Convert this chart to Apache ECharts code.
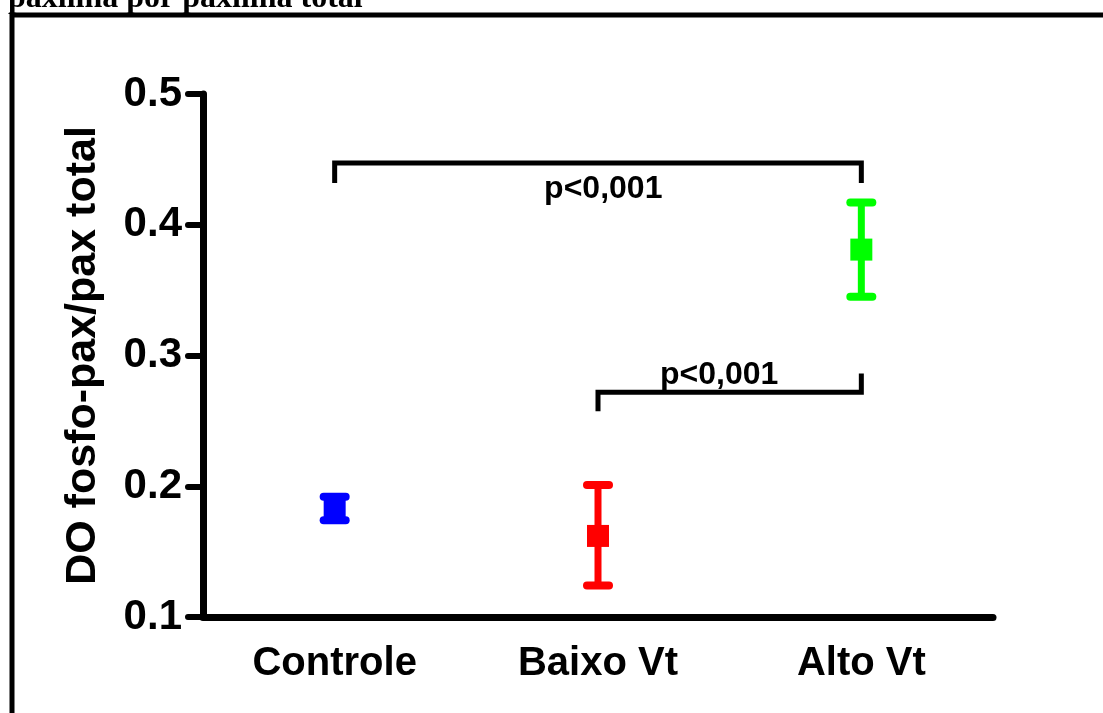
<!DOCTYPE html>
<html>
<head>
<meta charset="utf-8">
<style>
  html, body { margin: 0; padding: 0; background: #fff; }
  #chart { width: 1103px; height: 713px; }
</style>
<script src="https://cdn.jsdelivr.net/npm/echarts@6/dist/echarts.min.js"></script>
</head>
<body>
<div id="chart"></div>
<script>
// Groups and their summary statistics (mean with lower / upper error limits)
const categories = ['Controle', 'Baixo Vt', 'Alto Vt'];
const means = [0.183, 0.162, 0.381];
const lowerLimits = [0.174, 0.124, 0.345];
const upperLimits = [0.192, 0.201, 0.417];
const groupColors = ['#0000ff', '#ff0000', '#00ff00'];

// Y axis scale
const yMin = 0.1;
const yMax = 0.5;
const yStep = 0.1;

// Significance brackets: from group, to group, bar level, end of left leg,
// end of right leg, text level and text centre (in group units)
const bracketFrom = [0, 1];
const bracketTo = [2, 2];
const bracketLevel = [0.4473, 0.2718];
const bracketLeftEnd = [0.432, 0.2573];
const bracketRightEnd = [0.432, 0.2863];
const bracketTextLevel = [0.4275, 0.2847];
const bracketTextPos = [1.02, 1.46];
const bracketText = ['p<0,001', 'p<0,001'];

const headerText = 'paxilina por paxilina total';
const yAxisTitle = 'DO fosfo-pax/pax total';

const SANS = '"Liberation Sans", Arial, Helvetica, sans-serif';

const chart = echarts.init(document.getElementById('chart'), null, { renderer: 'canvas' });

const errorData = categories.map((c, i) => [i, means[i], lowerLimits[i], upperLimits[i]]);
const meanData = categories.map((c, i) => ({
  value: [i, means[i]],
  itemStyle: { color: groupColors[i], opacity: 1 }
}));
const bracketData = bracketFrom.map((f, i) => [
  f, bracketTo[i], bracketLevel[i], bracketLeftEnd[i], bracketRightEnd[i],
  bracketTextLevel[i], bracketTextPos[i], i
]);

chart.setOption({
  animation: false,
  backgroundColor: '#ffffff',
  grid: { left: 203, right: 110, top: 94, bottom: 96, containLabel: false },
  graphic: [
    {
      type: 'polyline',
      shape: { points: [[12, 713], [12, 15], [1103, 15]] },
      style: { stroke: '#000', lineWidth: 5, fill: null }
    },
    {
      type: 'text',
      x: 8, y: 15,
      style: {
        text: headerText,
        font: 'bold 32px "Liberation Serif", "Times New Roman", serif',
        fill: '#000',
        verticalAlign: 'bottom'
      }
    }
  ],
  xAxis: {
    type: 'category',
    data: categories,
    boundaryGap: true,
    axisLine: { lineStyle: { color: '#000', width: 7, cap: 'round' } },
    axisTick: { alignWithLabel: true, length: 15, lineStyle: { color: '#000', width: 6, cap: 'round' } },
    axisLabel: {
      color: '#000',
      fontFamily: SANS,
      fontWeight: 'bold',
      fontSize: 40,
      margin: 27
    },
    splitLine: { show: false }
  },
  yAxis: {
    type: 'value',
    min: yMin,
    max: yMax,
    interval: yStep,
    name: yAxisTitle,
    nameLocation: 'middle',
    nameRotate: 90,
    nameGap: 98,
    nameTextStyle: { color: '#000', fontFamily: SANS, fontWeight: 'bold', fontSize: 43 },
    axisLine: { show: true, lineStyle: { color: '#000', width: 7, cap: 'round' } },
    axisTick: { show: true, length: 15, lineStyle: { color: '#000', width: 6, cap: 'round' } },
    axisLabel: {
      color: '#000',
      fontFamily: SANS,
      fontWeight: 'bold',
      fontSize: 42,
      margin: 21,
      formatter: v => v.toFixed(1)
    },
    splitLine: { show: false }
  },
  series: [
    {
      // error bars: stem plus two caps
      type: 'custom',
      data: errorData,
      z: 3,
      renderItem: (params, api) => {
        const i = api.value(0);
        const lo = api.coord([i, api.value(2)]);
        const hi = api.coord([i, api.value(3)]);
        const capHalf = 11;
        const color = groupColors[i];
        const common = { stroke: color, lineWidth: 7, lineCap: 'round' };
        return {
          type: 'group',
          children: [
            { type: 'line', shape: { x1: lo[0], y1: lo[1], x2: hi[0], y2: hi[1] }, style: Object.assign({}, common, { lineCap: 'butt' }) },
            { type: 'line', shape: { x1: hi[0] - capHalf, y1: hi[1], x2: hi[0] + capHalf, y2: hi[1] }, style: Object.assign({}, common, { lineWidth: 8 }) },
            { type: 'line', shape: { x1: lo[0] - capHalf, y1: lo[1], x2: lo[0] + capHalf, y2: lo[1] }, style: Object.assign({}, common, { lineWidth: 8 }) }
          ]
        };
      }
    },
    {
      // group means
      type: 'scatter',
      data: meanData,
      symbol: 'rect',
      symbolSize: 22,
      itemStyle: { opacity: 1 },
      z: 4
    },
    {
      // significance brackets with their p-value text
      type: 'custom',
      data: bracketData,
      z: 5,
      renderItem: (params, api) => {
        const a = api.value(0), b = api.value(1);
        const pL = api.coord([a, api.value(2)]);
        const pR = api.coord([b, api.value(2)]);
        const legL = api.coord([a, api.value(3)]);
        const legR = api.coord([b, api.value(4)]);
        const tY = api.coord([a, api.value(5)])[1];
        const xUnit = api.size([1, 0])[0];
        const tX = pL[0] + (api.value(6) - a) * xUnit;
        const idx = api.value(7);
        return {
          type: 'group',
          children: [
            {
              type: 'polyline',
              shape: { points: [[legL[0], legL[1]], [pL[0], pL[1]], [pR[0], pR[1]], [legR[0], legR[1]]] },
              style: { stroke: '#000', lineWidth: 5, fill: null, lineJoin: 'miter' }
            },
            {
              type: 'text',
              x: tX,
              y: tY,
              style: {
                text: bracketText[idx],
                font: 'bold 32px ' + SANS,
                fill: '#000',
                align: 'center',
                verticalAlign: 'middle'
              }
            }
          ]
        };
      }
    }
  ]
});
</script>
</body>
</html>
